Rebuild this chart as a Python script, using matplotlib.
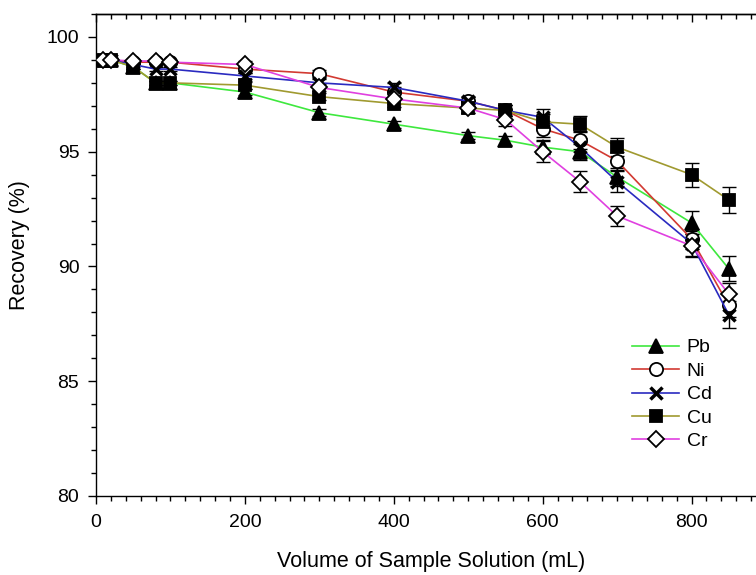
import matplotlib
matplotlib.use("Agg")
import matplotlib.pyplot as plt
from matplotlib.ticker import MultipleLocator

plt.rcParams['font.family'] = ['Liberation Sans', 'DejaVu Sans']

volume = [10, 20, 50, 80, 100, 200, 300, 400, 500, 550, 600, 650, 700, 800, 850]

pb = [99.0, 99.0, 98.7, 98.0, 98.0, 97.6, 96.7, 96.2, 95.7, 95.5, 95.2, 95.0, 93.9, 91.9, 89.9]
ni = [99.0, 99.0, 98.9, 98.9, 98.9, 98.6, 98.4, 97.6, 97.2, 96.8, 96.0, 95.5, 94.6, 91.2, 88.3]
cd = [99.0, 99.0, 98.8, 98.6, 98.6, 98.3, 98.0, 97.8, 97.2, 96.8, 96.5, 95.2, 93.7, 91.0, 87.9]
cu = [99.0, 99.0, 98.7, 98.0, 98.0, 97.9, 97.4, 97.1, 96.9, 96.8, 96.3, 96.2, 95.2, 94.0, 92.9]
cr = [99.0, 99.0, 98.95, 98.95, 98.9, 98.8, 97.8, 97.3, 96.9, 96.4, 95.0, 93.7, 92.2, 90.9, 88.8]

pb_err = [0.05, 0.05, 0.1, 0.1, 0.1, 0.15, 0.15, 0.15, 0.15, 0.2, 0.3, 0.35, 0.4, 0.5, 0.55]
ni_err = [0.05, 0.05, 0.1, 0.1, 0.1, 0.15, 0.15, 0.2, 0.2, 0.25, 0.35, 0.4, 0.4, 0.45, 0.5]
cd_err = [0.05, 0.05, 0.1, 0.1, 0.1, 0.15, 0.15, 0.2, 0.2, 0.25, 0.35, 0.4, 0.45, 0.55, 0.6]
cu_err = [0.05, 0.05, 0.1, 0.1, 0.1, 0.15, 0.15, 0.15, 0.2, 0.25, 0.35, 0.35, 0.4, 0.53, 0.56]
cr_err = [0.05, 0.05, 0.1, 0.1, 0.1, 0.15, 0.15, 0.2, 0.2, 0.3, 0.45, 0.45, 0.45, 0.5, 0.5]

labels = ['Pb', 'Ni', 'Cd', 'Cu', 'Cr']
series = [pb, ni, cd, cu, cr]
errors = [pb_err, ni_err, cd_err, cu_err, cr_err]
colors = ['#3ee83e', '#d23a32', '#2a2ac0', '#a09a30', '#e040e0']
markers = ['^', 'o', 'x', 's', 'D']
faces = ['black', 'white', 'black', 'black', 'white']
msizes = [9.5, 9.5, 8.5, 8.5, 8.5]

fig = plt.figure(figsize=(7.56, 5.75), dpi=100)
ax = fig.add_axes([96/756, 79/575, 670/756, 482/575])

for y, e, c, m, fc, ms, lab in zip(series, errors, colors, markers, faces, msizes, labels):
    ax.errorbar(volume, y, yerr=e, fmt='none', ecolor='black', elinewidth=1.0,
                capsize=5, capthick=1.0, zorder=2)
    ax.plot(volume, y, color=c, lw=1.2, marker=m, ms=ms, mfc=fc, mec='black',
            mew=1.3 if m != 'x' else 2.5, label=lab, zorder=3)

ax.set_xlim(0, 900)
ax.set_ylim(80, 101)
ax.xaxis.set_major_locator(MultipleLocator(200))
ax.xaxis.set_minor_locator(MultipleLocator(20))
ax.yaxis.set_major_locator(MultipleLocator(5))
ax.yaxis.set_minor_locator(MultipleLocator(1))
ax.tick_params(axis='both', which='major', direction='out', length=6, width=1.0,
               labelsize=14, pad=6)
ax.tick_params(axis='both', which='minor', direction='out', length=3.5, width=1.0)
ax.tick_params(axis='x', which='major', pad=7)

for s in ['left', 'bottom', 'top']:
    ax.spines[s].set_linewidth(1.0)
ax.spines['right'].set_visible(False)

sec = ax.secondary_xaxis('top')
sec.xaxis.set_major_locator(MultipleLocator(200))
sec.xaxis.set_minor_locator(MultipleLocator(20))
sec.tick_params(axis='x', which='major', direction='in', length=6, width=1.0, labeltop=False)
sec.tick_params(axis='x', which='minor', direction='in', length=3.5, width=1.0)
sec.spines['top'].set_linewidth(1.0)

ax.set_xlabel('Volume of Sample Solution (mL)', fontsize=15.5)
ax.set_ylabel('Recovery (%)', fontsize=15.5)
ax.xaxis.set_label_coords(0.5, (496 - 561) / 482)
ax.xaxis.label.set_va('center')
ax.yaxis.set_label_coords((20 - 96) / 670, (496 - 245) / 482)
ax.yaxis.label.set_va('center')

leg = ax.legend(loc='center', bbox_to_anchor=(672/756, 1 - 394.5/575),
                bbox_transform=fig.transFigure, frameon=False, fontsize=14,
                handlelength=2.4, handletextpad=0.4, labelspacing=0.3, borderpad=0)

fig.savefig('out.png', dpi=100)
